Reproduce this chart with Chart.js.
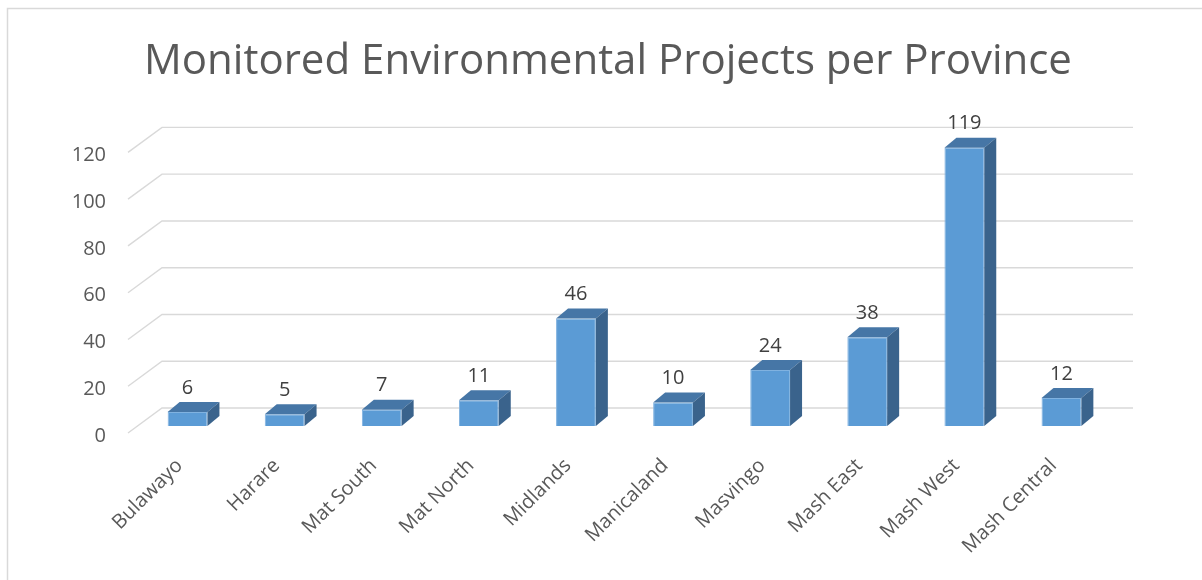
<!DOCTYPE html>
<html>
<head>
<meta charset="utf-8">
<script src="https://cdn.jsdelivr.net/npm/chart.js@4/dist/chart.umd.min.js"></script>
<style>
  body { margin: 0; background: #fff; }
  canvas { display: block; }
</style>
</head>
<body>
<canvas id="graph" width="1202" height="580"></canvas>
<script>
var provinces = ['Bulawayo', 'Harare', 'Mat South', 'Mat North', 'Midlands', 'Manicaland', 'Masvingo', 'Mash East', 'Mash West', 'Mash Central'];
var projects = [6, 5, 7, 11, 46, 10, 24, 38, 119, 12];
var yTicks = [0, 20, 40, 60, 80, 100, 120];

// fake 3d: how far the box tops / side walls and the floor grid are pushed back
var barDepth = { x: 12, y: -10 };
var wallFront = { x: -11, y: 7 };
var wallBack = { x: 23, y: -18 };

// white page with the light grey chart border
var frame = {
  id: 'frame',
  beforeDraw: function(chart) {
    var ctx = chart.ctx;
    ctx.save();
    ctx.fillStyle = '#fff';
    ctx.fillRect(0, 0, chart.width, chart.height);
    ctx.strokeStyle = '#D9D9D9';
    ctx.lineWidth = 1.5;
    ctx.strokeRect(7.5, 8.5, 1400, 800);
    ctx.restore();
  }
};

// gridlines bent over the floor edge and running along the back wall
var wallGrid = {
  id: 'wallGrid',
  beforeDatasetsDraw: function(chart) {
    var ctx = chart.ctx;
    var area = chart.chartArea;
    var yScale = chart.scales.y;
    ctx.save();
    ctx.strokeStyle = '#D9D9D9';
    ctx.lineWidth = 1.4;
    yTicks.forEach(function(v) {
      var y = yScale.getPixelForValue(v);
      ctx.beginPath();
      ctx.moveTo(area.left + wallFront.x, y + wallFront.y);
      ctx.lineTo(area.left + wallBack.x, y + wallBack.y);
      ctx.lineTo(area.right + wallBack.x, y + wallBack.y);
      ctx.stroke();
    });
    ctx.restore();
  }
};

// top and side faces of each column plus the value above it
var boxFaces = {
  id: 'boxFaces',
  afterDatasetsDraw: function(chart) {
    var ctx = chart.ctx;
    var meta = chart.getDatasetMeta(0);
    ctx.save();
    meta.data.forEach(function(bar, i) {
      var p = bar.getProps(['x', 'y', 'base', 'width'], true);
      var left = p.x - p.width / 2;
      var right = p.x + p.width / 2;
      var top = p.y;
      var bottom = p.base;

      ctx.fillStyle = '#4676A6';
      ctx.beginPath();
      ctx.moveTo(left, top);
      ctx.lineTo(left + barDepth.x, top + barDepth.y);
      ctx.lineTo(right + barDepth.x, top + barDepth.y);
      ctx.lineTo(right, top);
      ctx.closePath();
      ctx.fill();

      ctx.fillStyle = '#3A638C';
      ctx.beginPath();
      ctx.moveTo(right, top);
      ctx.lineTo(right + barDepth.x, top + barDepth.y);
      ctx.lineTo(right + barDepth.x, bottom + barDepth.y);
      ctx.lineTo(right, bottom);
      ctx.closePath();
      ctx.fill();

      ctx.fillStyle = '#404040';
      ctx.font = '20px "Open Sans"';
      ctx.textAlign = 'center';
      ctx.textBaseline = 'middle';
      ctx.fillText(String(projects[i]), p.x, top + barDepth.y - 14);
    });
    ctx.restore();
  }
};

function chartSetup(labels, values) {
  var data = {
    type: 'bar',
    data: {
      labels: labels,
      datasets: [{
        data: values,
        backgroundColor: '#5B9BD5',
        borderColor: '#80B2E0',
        borderWidth: 1,
        barPercentage: 0.41,
        categoryPercentage: 1
      }]
    },
    options: {
      responsive: false,
      animation: false,
      devicePixelRatio: 1,
      layout: {
        padding: { top: 0, left: 14, right: 0, bottom: 0 }
      },
      plugins: {
        legend: { display: false },
        tooltip: { enabled: false },
        title: {
          display: true,
          text: 'Monitored Environmental Projects per Province',
          color: '#595959',
          font: { family: 'Open Sans', size: 42, weight: 'normal' },
          padding: { top: 37, bottom: 58 }
        }
      },
      scales: {
        x: {
          grid: { display: false, drawTicks: false },
          border: { display: false },
          ticks: {
            color: '#595959',
            font: { family: 'Open Sans', size: 20 },
            minRotation: 45,
            maxRotation: 45,
            autoSkip: false,
            padding: 28,
            labelOffset: -8
          },
          afterFit: function(scale) { scale.height = 154; }
        },
        y: {
          min: 0,
          max: 120,
          grid: { display: false, drawTicks: false },
          border: { display: false },
          afterBuildTicks: function(scale) {
            scale.ticks = yTicks.map(function(v) { return { value: v }; });
          },
          ticks: {
            color: '#595959',
            font: { family: 'Open Sans', size: 20 },
            padding: 33,
            labelOffset: 10
          },
          afterFit: function(scale) { scale.width = 125; }
        },
        // empty right-hand axis, only reserves the margin beside the back wall
        spacer: {
          position: 'right',
          min: 0,
          max: 120,
          grid: { display: false, drawTicks: false },
          border: { display: false },
          ticks: { display: false },
          afterFit: function(scale) { scale.width = 92; }
        }
      }
    },
    plugins: [frame, wallGrid, boxFaces]
  };
  return data;
}

var context = document.querySelector('#graph').getContext('2d');
var chart = new Chart(context, chartSetup(provinces, projects));
</script>
</body>
</html>
